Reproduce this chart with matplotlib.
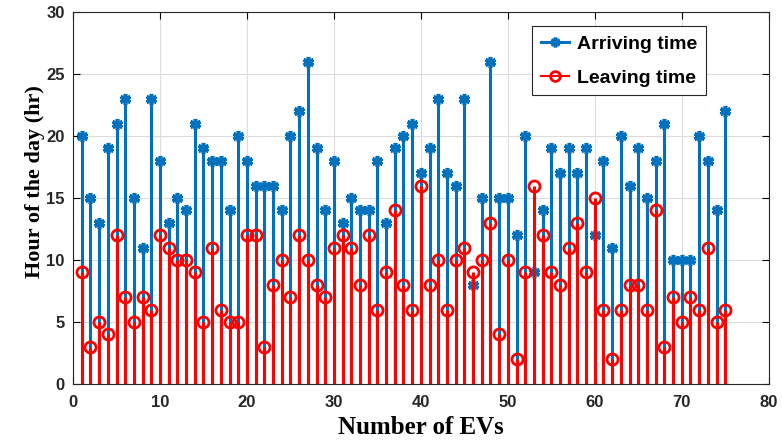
import numpy as np
import matplotlib
matplotlib.use('Agg')
import matplotlib.pyplot as plt
from matplotlib.lines import Line2D
from matplotlib.legend_handler import HandlerLine2D

ev_ids = list(range(1, 76))
arriving = [20, 15, 13, 19, 21, 23, 15, 11, 23, 18,
            13, 15, 14, 21, 19, 18, 18, 14, 20, 18,
            16, 16, 16, 14, 20, 22, 26, 19, 14, 18,
            13, 15, 14, 14, 18, 13, 19, 20, 21, 17,
            19, 23, 17, 16, 23, 8, 15, 26, 15, 15,
            12, 20, 9, 14, 19, 17, 19, 17, 19, 12,
            18, 11, 20, 16, 19, 15, 18, 21, 10, 10,
            10, 20, 18, 14, 22]
leaving = [9, 3, 5, 4, 12, 7, 5, 7, 6, 12,
           11, 10, 10, 9, 5, 11, 6, 5, 5, 12,
           12, 3, 8, 10, 7, 12, 10, 8, 7, 11,
           12, 11, 8, 12, 6, 9, 14, 8, 6, 16,
           8, 10, 6, 10, 11, 9, 10, 13, 4, 10,
           2, 9, 16, 12, 9, 8, 11, 13, 9, 15,
           6, 2, 6, 8, 8, 6, 14, 3, 7, 5,
           7, 6, 11, 5, 6]

blue = '#0072BD'
red = '#FF0000'
star = (6, 2, 0)


class EndMarker(HandlerLine2D):
    # marker at the right end of the legend line, like MATLAB stem legends
    def get_xdata(self, legend, xdescent, ydescent, width, height, fontsize):
        return [-xdescent, -xdescent + width], [-xdescent + width]


fig = plt.figure(figsize=(7.82, 4.46), dpi=100)
ax = fig.add_axes([0.0934, 0.139, 0.8896, 0.834])

m1, s1, b1 = ax.stem(ev_ids, arriving, basefmt=' ')
s1.set_color(blue)
s1.set_linewidth(2.2)
m1.set_marker(star)
m1.set_markersize(8)
m1.set_markeredgewidth(2.6)
m1.set_color(blue)

m2, s2, b2 = ax.stem(ev_ids, leaving, basefmt=' ')
s2.set_color(red)
s2.set_linewidth(2.2)
m2.set_marker('o')
m2.set_markersize(8)
m2.set_markerfacecolor('none')
m2.set_markeredgecolor(red)
m2.set_markeredgewidth(2)

ax.set_xlim(0, 80)
ax.set_ylim(0, 30)
ax.set_xticks(np.arange(0, 81, 10))
ax.set_yticks(np.arange(0, 31, 5))
ax.grid(True, color='#dcdcdc', linewidth=0.8)
ax.set_axisbelow(True)
ax.tick_params(direction='in', top=True, right=True, length=5, labelsize=12,
               labelcolor='#262626')
ax.tick_params(axis='x', pad=8)
ax.tick_params(axis='y', pad=6)
for lab in ax.get_xticklabels() + ax.get_yticklabels():
    lab.set_fontfamily('Liberation Sans')
    lab.set_fontweight('bold')
for sp in ax.spines.values():
    sp.set_color('#262626')
    sp.set_linewidth(0.8)

ax.set_xlabel('Number of EVs', fontfamily='Liberation Serif', fontweight='bold',
              fontsize=18, labelpad=4)
ax.set_ylabel('Hour of the day (hr)', fontfamily='Liberation Serif', fontweight='bold',
              fontsize=16)
ax.yaxis.set_label_coords(-0.04, 0.543)

h1 = Line2D([], [], color=blue, linewidth=2.2, marker=star, markersize=7,
            markeredgewidth=2.6)
h2 = Line2D([], [], color=red, linewidth=1.5, marker='o', markersize=7,
            markerfacecolor='none', markeredgewidth=2)
leg = ax.legend([h1, h2], ['Arriving time', 'Leaving time'], loc='upper right',
                bbox_to_anchor=(0.9095, 0.962), borderaxespad=0,
                handler_map={Line2D: EndMarker()},
                prop={'family': 'Liberation Sans', 'size': 14, 'weight': 'bold'},
                fancybox=False, edgecolor='#262626', framealpha=1,
                handlelength=1.45, handletextpad=0.4, borderpad=0.45,
                labelspacing=0.85)
leg.get_frame().set_linewidth(0.8)

fig.savefig('out.png', dpi=100)
